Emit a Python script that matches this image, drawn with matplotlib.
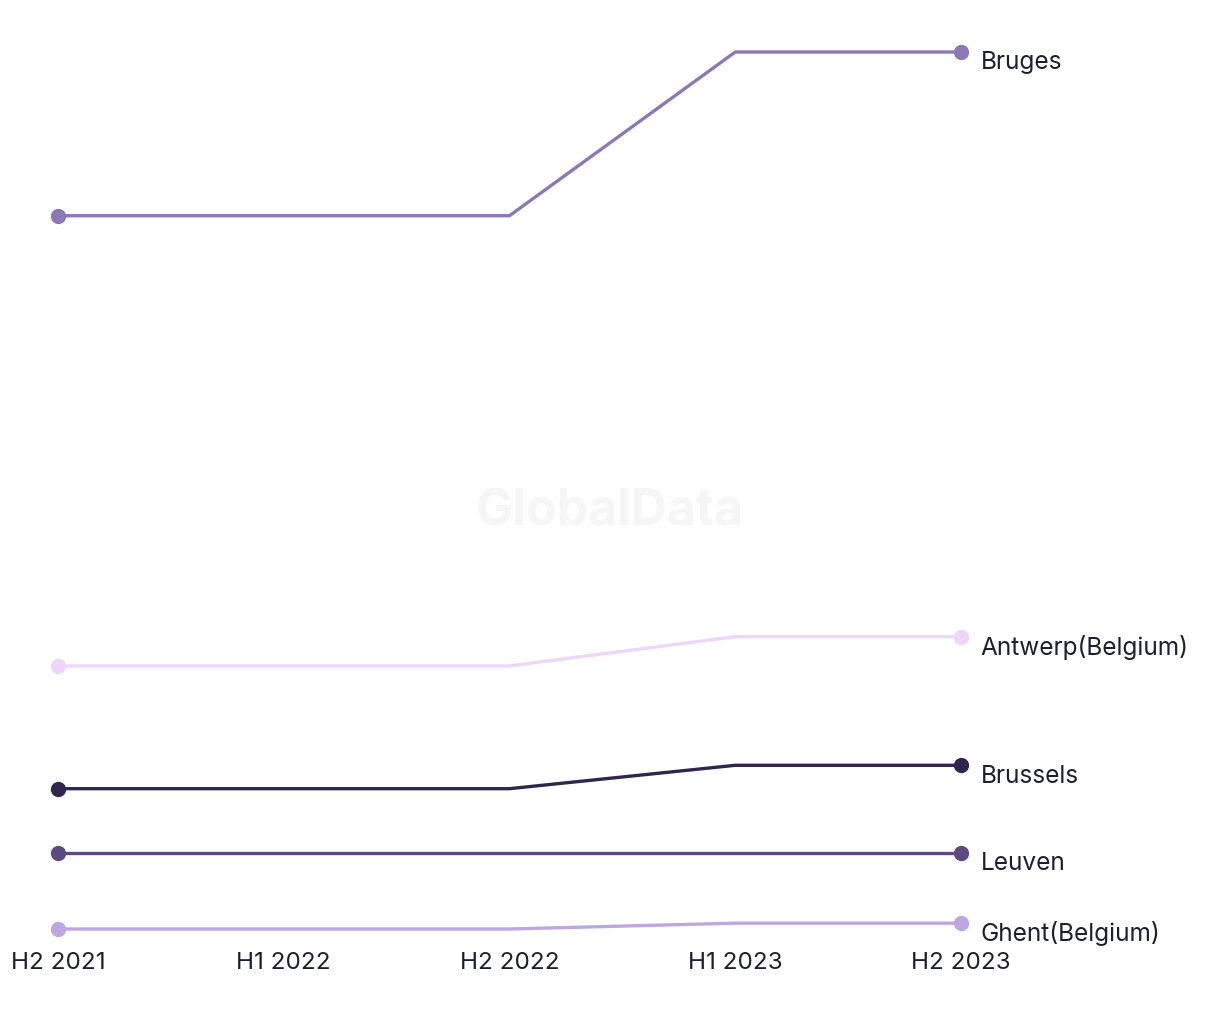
import matplotlib.pyplot as plt

plt.rcParams['font.family'] = ['Inter', 'DejaVu Sans']

periods = ['H2 2021', 'H1 2022', 'H2 2022', 'H1 2023', 'H2 2023']
cities = ['Bruges', 'Antwerp(Belgium)', 'Brussels', 'Leuven', 'Ghent(Belgium)']
bruges = [122, 122, 122, 150, 150]
antwerp = [45, 45, 45, 50, 50]
brussels = [24, 24, 24, 28, 28]
leuven = [13, 13, 13, 13, 13]
ghent = [0, 0, 0, 1, 1]
colors = ['#8e77b5', '#eed6fa', '#33234f', '#5e4a80', '#bea6e0']

fig = plt.figure(figsize=(12.2, 10.2), dpi=100)
ax = fig.add_axes([58 / 1220, 1 - 930 / 1020, (961 - 58) / 1220, (930 - 53) / 1020])

x = list(range(len(periods)))
for name, vals, c in zip(cities, [bruges, antwerp, brussels, leuven, ghent], colors):
    ax.plot(x, vals, color=c, lw=2.4, clip_on=False, zorder=3)
    ax.plot([x[0], x[-1]], [vals[0], vals[-1]], 'o', color=c, ms=10, clip_on=False, zorder=4)
    ax.annotate(name, (x[-1], vals[-1]), xytext=(14, -7), textcoords='offset points',
                va='center', ha='left', fontsize=17.6, color='#1e1e32')

ax.set_xlim(0, 4)
ax.set_ylim(0, 150)
ax.set_xticks(x)
ax.set_xticklabels(periods, fontsize=17.4, color='#1e1e32')
ax.tick_params(axis='x', length=0, pad=16)
ax.set_yticks([])
for s in ax.spines.values():
    s.set_visible(False)

fig.text(0.5, 1 - 512 / 1020, 'GlobalData', ha='center', va='center',
         fontsize=36, fontweight='bold', color='#f6f6f6', zorder=0)

fig.savefig('out.png', dpi=100, facecolor='white')
